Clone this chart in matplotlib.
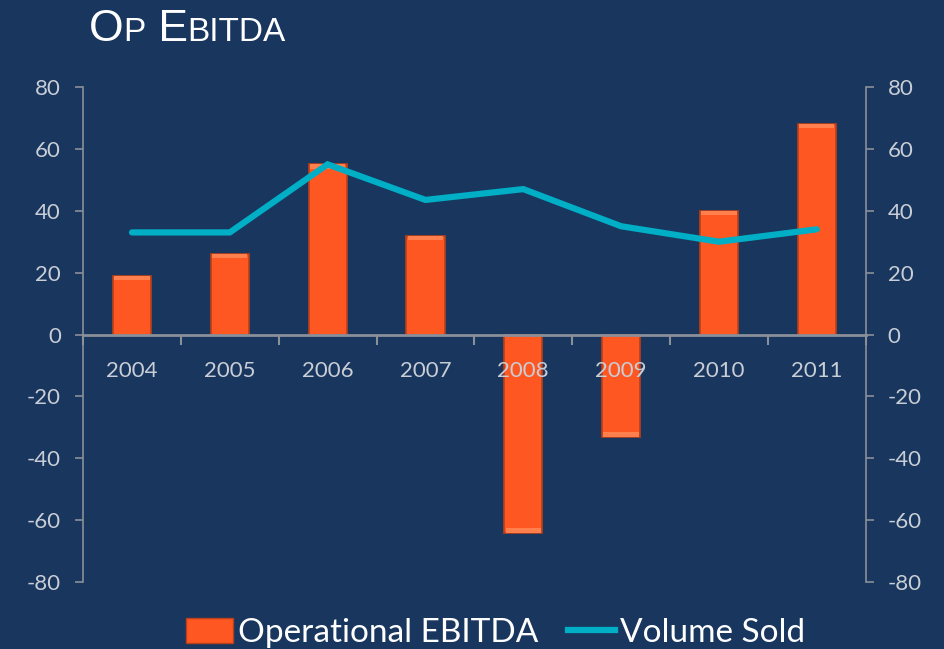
import numpy as np
import matplotlib.pyplot as plt
from matplotlib.patches import Patch
from matplotlib.lines import Line2D

# data
years = ['2004', '2005', '2006', '2007', '2008', '2009', '2010', '2011']
op_ebitda = [19, 26, 55, 32, -64, -33, 40, 68]
volume_sold = [33, 33, 55, 43.5, 47, 35, 30, 34]
yticks = [-80, -60, -40, -20, 0, 20, 40, 60, 80]

bg = '#18365E'
bar_color = '#FF5722'
bar_edge = '#B8401A'
line_color = '#00AEC6'
tick_color = '#C9CED6'
spine_color = '#8A8F99'

plt.rcParams['font.family'] = ['Lato', 'DejaVu Sans']
plt.rcParams['axes.unicode_minus'] = False

fig = plt.figure(figsize=(9.44, 6.49), dpi=100, facecolor=bg)
ax = fig.add_axes([0.088, 0.103, 0.829, 0.763])
ax.set_facecolor(bg)

x = np.arange(len(years))
ax.bar(x, op_ebitda, width=0.39, color=bar_color, edgecolor=bar_edge,
       linewidth=1.2, zorder=1)
# lighter bevel strip at the outer end of each bar
ends = np.array(op_ebitda, dtype=float)
ax.bar(x, -np.sign(ends) * 1.4, bottom=ends, width=0.36,
       color='#FF7F4D', linewidth=0, zorder=1.1)

ax.set_xlim(-0.5, len(years) - 0.5)
ax.set_ylim(-80, 80)
ax.set_yticks(yticks)

# category boundaries as major ticks, labels on minor ticks
ax.set_xticks(np.arange(len(years) + 1) - 0.5)
ax.set_xticklabels([])
ax.set_xticks(x, minor=True)
ax.set_xticklabels(years, minor=True)
ax.tick_params(axis='x', which='major', direction='out', length=7,
               color=spine_color, width=1.5)
ax.tick_params(axis='x', which='minor', length=0, pad=19,
               labelsize=16, labelcolor=tick_color)
ax.tick_params(axis='y', direction='out', length=6, color=spine_color,
               width=1.2, labelsize=16, labelcolor=tick_color, pad=10)

ax.spines['bottom'].set_position(('data', 0))
for s in ['top', 'right']:
    ax.spines[s].set_visible(False)
for s in ['left', 'bottom']:
    ax.spines[s].set_color(spine_color)
ax.spines['bottom'].set_linewidth(2)
ax.spines['left'].set_linewidth(1.2)

ax2 = ax.twinx()
ax2.plot(x, volume_sold, color=line_color, linewidth=4.5,
         solid_capstyle='round', solid_joinstyle='miter')
ax2.set_ylim(-80, 80)
ax2.set_yticks(yticks)
ax2.tick_params(axis='y', direction='out', length=6, color=spine_color,
                width=1.2, labelsize=16, labelcolor=tick_color, pad=10)
for s in ['top', 'left', 'bottom']:
    ax2.spines[s].set_visible(False)
ax2.spines['right'].set_color(spine_color)
ax2.spines['right'].set_linewidth(1.2)

# small caps title, pieces placed side by side on one baseline
renderer = fig.canvas.get_renderer()
title_parts = [('O', 32), ('P', 24), (' E', 32), ('BITDA', 24)]
xpos = 0.094
for txt, size in title_parts:
    t = fig.text(xpos, 0.937, txt, color='white', fontsize=size,
                 family='Liberation Sans', va='baseline', ha='left')
    bb = t.get_window_extent(renderer)
    xpos = fig.transFigure.inverted().transform((bb.x1, bb.y0))[0]

handles = [Patch(facecolor=bar_color, edgecolor=bar_edge),
           Line2D([0], [0], color=line_color, linewidth=4.5)]
fig.legend(handles, ['Operational EBITDA', 'Volume Sold'],
           loc='lower center', bbox_to_anchor=(0.525, -0.045), ncol=2,
           frameon=False, fontsize=24, labelcolor='white',
           handlelength=1.4, handleheight=0.8, handletextpad=0.15,
           columnspacing=0.9)

fig.savefig('out.png', dpi=100, facecolor=bg)
